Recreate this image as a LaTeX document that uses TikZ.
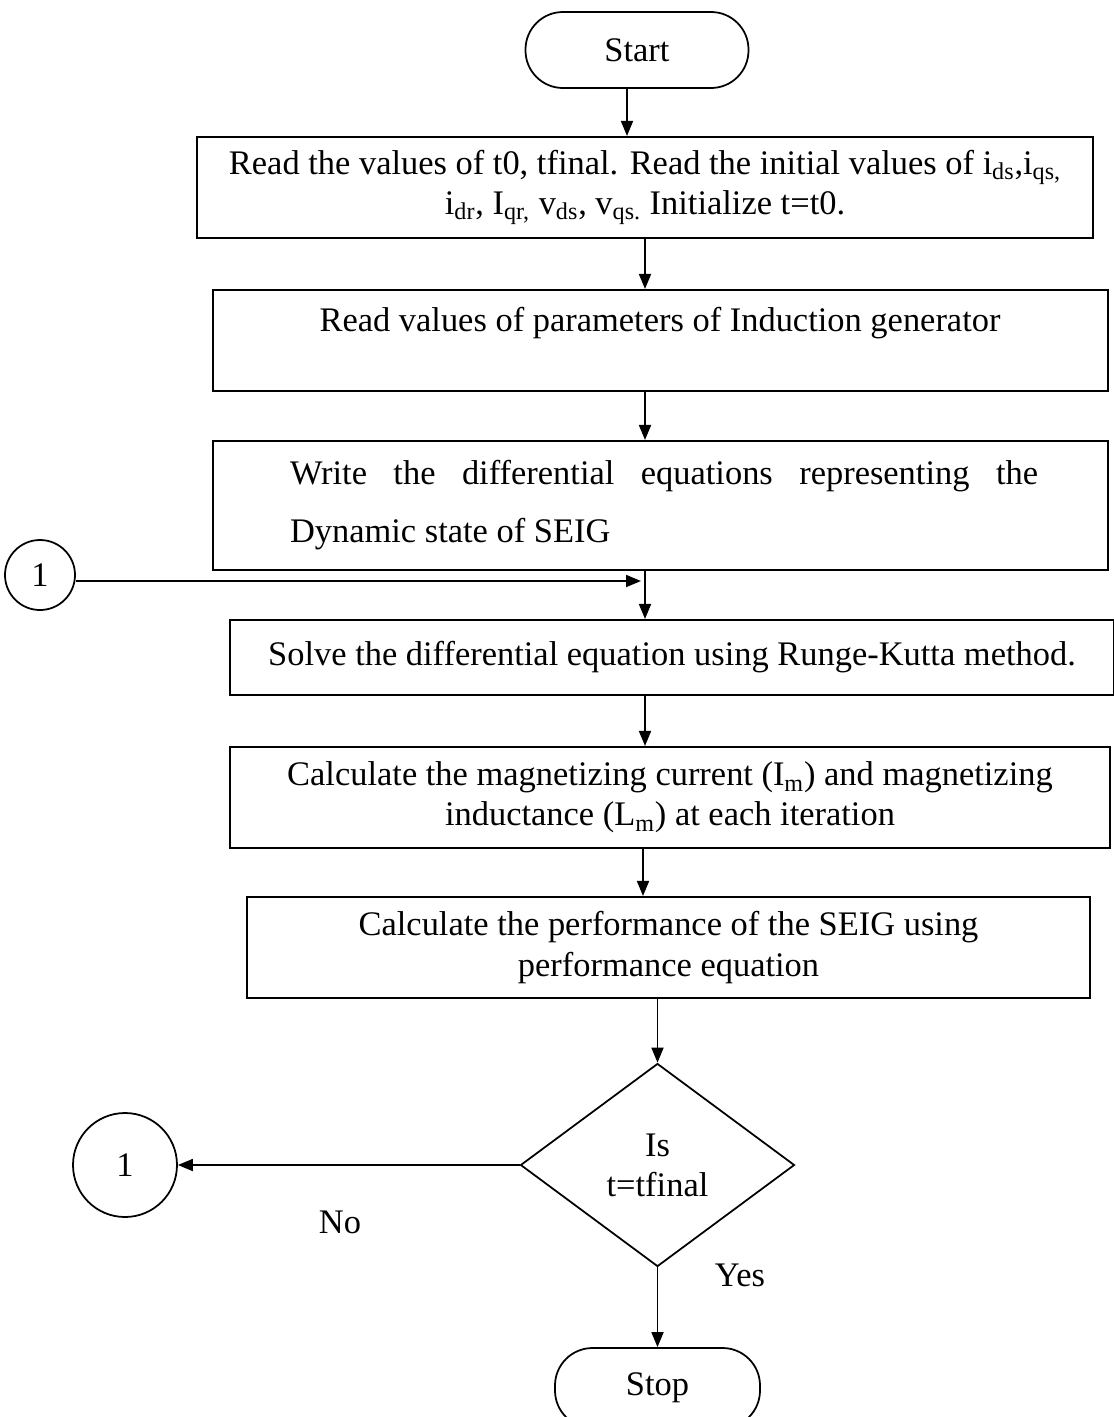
\documentclass[tikz,border=0pt]{standalone}
\usepackage{fontspec}
\setmainfont{Liberation Serif}
\usetikzlibrary{arrows.meta, shapes.geometric}

\begin{document}
\begin{tikzpicture}[>={Triangle[length=3mm, width=2.4mm]}, line width=1pt,
  every node/.style={font=\fontsize{19.6}{22.8}\selectfont, inner sep=0pt},
  proc/.style={draw, rectangle, line width=1.2pt, minimum height=2.02cm, align=center},
  term/.style={draw, rectangle, rounded corners=0.75cm, minimum height=1.52cm},
  conn/.style={draw, circle},
  dec/.style={draw, diamond, minimum width=5.48cm, minimum height=4.06cm, align=center}]
\useasboundingbox (0,0) rectangle (22.28,-28.34);
% terminals
\node[term, minimum width=4.46cm] (start) at (12.74,-1) {Start};
\node[term, minimum width=4.1cm, minimum height=1.6cm] (stop) at (13.15,-27.76) {Stop};
% process boxes
\node[proc, minimum width=17.92cm] (b1) at (12.9,-3.75)
  {Read the values of t0, tfinal. Read the initial values of i\textsubscript{ds},i\textsubscript{qs,}\\
   i\textsubscript{dr}, I\textsubscript{qr,} v\textsubscript{ds}, v\textsubscript{qs.} Initialize t=t0.};
\node[proc, minimum width=17.9cm] (b2) at (13.21,-6.81) {};
\node (b2txt) at (13.2,-6.46) {Read values of parameters of Induction generator};
\node[proc, minimum width=17.9cm, minimum height=2.58cm, text width=15.1cm, align=justify,
  font=\fontsize{19.6}{33}\selectfont] (b3) at (13.21,-10.11)
  {\hspace*{0.14cm}Write the differential equations representing the\linebreak
   \hspace*{0.14cm}Dynamic state of SEIG};
\node[proc, minimum width=17.68cm, minimum height=1.5cm] (b4) at (13.44,-13.15)
  {Solve the differential equation using Runge-Kutta method.};
\node[proc, minimum width=17.6cm] (b5) at (13.4,-15.95)
  {Calculate the magnetizing current (I\textsubscript{m}) and magnetizing\\
   inductance (L\textsubscript{m}) at each iteration};
\node[proc, minimum width=16.86cm] (b6) at (13.37,-18.95)
  {Calculate the performance of the SEIG using\\ performance equation};
% decision and connectors
\node[dec] (d1) at (13.15,-23.3) {Is\\t=tfinal};
\node[conn, minimum size=1.4cm] (c1) at (0.8,-11.5) {1};
\node[conn, minimum size=2.08cm] (c2) at (2.5,-23.3) {1};
\coordinate (m1) at (12.82,-11.62);
% labels
\node (no) at (6.8,-24.44) {No};
\node (yes) at (14.8,-25.5) {Yes};
% arrows
\draw[->] (start.south -| 12.54,0) -- (b1.north -| 12.54,0);
\draw[->] (b1.south -| 12.9,0) -- (b2.north -| 12.9,0);
\draw[->] (b2.south -| 12.9,0) -- (b3.north -| 12.9,0);
\draw[->] (c1.east |- m1) -- (m1);
\draw[->] (b3.south -| 12.9,0) -- (b4.north -| 12.9,0);
\draw[->] (b4.south -| 12.9,0) -- (b5.north -| 12.9,0);
\draw[->] (b5.south -| 12.86,0) -- (b6.north -| 12.86,0);
\draw[->] (b6.south -| d1.north) -- (d1.north);
\draw[->] (d1.west) -- (c2.east);
\draw[->] (d1.south) -- (stop.north);
\end{tikzpicture}
\end{document}
